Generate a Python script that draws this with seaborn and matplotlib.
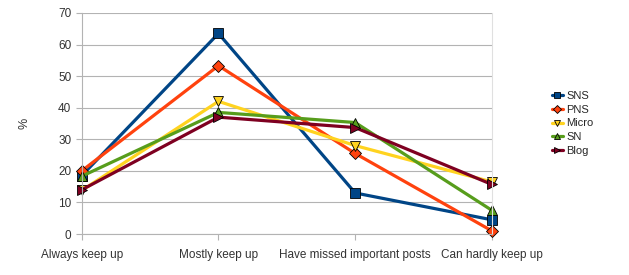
import pandas as pd
import seaborn as sns
import matplotlib.pyplot as plt

categories = ['Always keep up', 'Mostly keep up', 'Have missed important posts', 'Can hardly keep up']
series = ['SNS', 'PNS', 'Micro', 'SN', 'Blog']
sns_vals = [18.5, 63.5, 13.0, 4.5]
pns_vals = [20.0, 53.3, 25.5, 1.0]
micro_vals = [13.8, 42.0, 28.0, 16.5]
sn_vals = [18.3, 38.5, 35.3, 7.5]
blog_vals = [14.0, 37.0, 33.7, 15.7]

colors = ['#004586', '#ff420e', '#ffd320', '#579d1c', '#7e0021']
markers = ['s', 'D', 'v', '^', '>']

rows = []
for name, vals in zip(series, [sns_vals, pns_vals, micro_vals, sn_vals, blog_vals]):
    for i, v in enumerate(vals):
        rows.append({'pos': i, 'value': v, 'series': name})
df = pd.DataFrame(rows)

sns.set_style('white')
plt.rcParams['font.family'] = ['Liberation Sans', 'DejaVu Sans']

fig = plt.figure(figsize=(6.29, 2.75), dpi=100)
ax = fig.add_axes([0.130, 0.149, 0.652, 0.804])

sns.lineplot(data=df, x='pos', y='value', hue='series', style='series',
             palette=dict(zip(series, colors)), markers=dict(zip(series, markers)),
             dashes=False, linewidth=2.3, markersize=6.5, markeredgecolor='black',
             markeredgewidth=0.6, ax=ax, clip_on=False)

ax.set_xlim(0, 3)
ax.set_ylim(0, 70)
ax.set_yticks(range(0, 71, 10))
ax.set_xticks(range(4))
ax.set_xticklabels(categories)
ax.yaxis.grid(True, color='#b3b3b3', linewidth=0.8)
ax.set_axisbelow(True)
ax.spines['top'].set_visible(False)
for s in ['left', 'bottom']:
    ax.spines[s].set_color('#b3b3b3')
ax.spines['right'].set_color('#e0e0e0')
ax.tick_params(axis='both', colors='#b3b3b3', labelcolor='#333333', labelsize=8.5,
               length=4, direction='out', bottom=True, left=True)
ax.set_xlabel('')
ax.set_ylabel('%', color='#333333', fontsize=9, labelpad=20)
for t in ax.get_xticklabels():
    t.set_y(-0.02)

handles, labels = ax.get_legend_handles_labels()
ax.legend(handles, labels, loc='center left', bbox_to_anchor=(1.135, 0.5), frameon=False,
          fontsize=8, handlelength=1.0, handletextpad=0.3, labelspacing=0.35,
          borderaxespad=0, markerscale=0.6)

fig.savefig('out.png', dpi=100)
